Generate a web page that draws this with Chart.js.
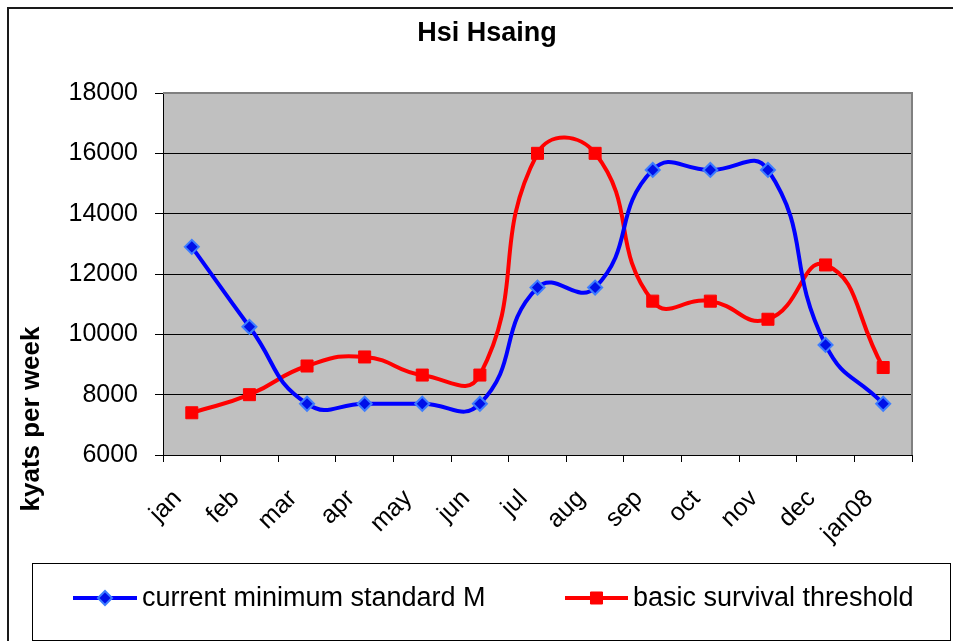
<!DOCTYPE html>
<html>
<head>
<meta charset="utf-8">
<script src="https://cdn.jsdelivr.net/npm/chart.js@4.4.1/dist/chart.umd.min.js"></script>
<style>
  html, body { margin: 0; padding: 0; background: #fff; }
  canvas { display: block; }
</style>
</head>
<body>
<canvas id="hsiHsaingChart" width="953" height="641"></canvas>
<script>
// Data
const months = ['jan', 'feb', 'mar', 'apr', 'may', 'jun', 'jul', 'aug', 'sep', 'oct', 'nov', 'dec', 'jan08'];
const currentMinimum = [12900, 10250, 7700, 7700, 7700, 7700, 11550, 11550, 15450, 15450, 15450, 9650, 7700];
const survivalThreshold = [7400, 8000, 8950, 9250, 8650, 8650, 16000, 16000, 11100, 11100, 10500, 12300, 8900];
const yMin = 6000;
const yMax = 18000;
const yStep = 2000;

const FONT = "'Liberation Sans', Arial, sans-serif";

// white background + the outer chart border (top and left edges only show)
const chartFrame = {
    id: 'chartFrame',
    beforeDraw(chart) {
        const ctx = chart.ctx;
        const area = chart.chartArea;
        ctx.save();
        ctx.fillStyle = '#ffffff';
        ctx.fillRect(0, 0, chart.width, chart.height);
        ctx.strokeStyle = '#1a1a1a';
        ctx.lineWidth = 2;
        ctx.beginPath();
        ctx.moveTo(8, chart.height + 2);
        ctx.lineTo(8, 8);
        ctx.lineTo(chart.width + 2, 8);
        ctx.stroke();
        // grey plot area
        ctx.fillStyle = '#c0c0c0';
        ctx.fillRect(area.left, area.top, area.right - area.left, area.bottom - area.top);
        ctx.restore();
    },
    beforeDatasetsDraw(chart) {
        const ctx = chart.ctx;
        const area = chart.chartArea;
        ctx.save();
        ctx.strokeStyle = '#808080';
        ctx.lineWidth = 2;
        ctx.beginPath();
        ctx.moveTo(area.left, area.top);
        ctx.lineTo(area.right, area.top);
        ctx.lineTo(area.right, area.bottom);
        ctx.stroke();
        ctx.restore();
    }
};

// y axis title sits low on the left, not centred on the axis
const yTitle = {
    id: 'yTitle',
    afterDraw(chart) {
        const ctx = chart.ctx;
        ctx.save();
        ctx.translate(32, 419);
        ctx.rotate(-Math.PI / 2);
        ctx.font = 'bold 26px ' + FONT;
        ctx.fillStyle = '#000';
        ctx.textAlign = 'center';
        ctx.textBaseline = 'middle';
        ctx.fillText('kyats per week', 0, 0);
        ctx.restore();
    }
};

// Excel style legend: boxed, line sample with marker
const lineLegend = {
    id: 'lineLegend',
    afterDraw(chart) {
        const ctx = chart.ctx;
        const slots = [{ x1: 73, x2: 137, tx: 142 }, { x1: 565, x2: 628, tx: 633 }];
        const cy = 598;
        ctx.save();
        ctx.strokeStyle = '#000';
        ctx.lineWidth = 1;
        ctx.strokeRect(32.5, 563.5, 918, 77);
        chart.data.datasets.forEach((ds, i) => {
            const s = slots[i];
            ctx.strokeStyle = ds.borderColor;
            ctx.lineWidth = ds.borderWidth;
            ctx.beginPath();
            ctx.moveTo(s.x1, cy);
            ctx.lineTo(s.x2, cy);
            ctx.stroke();
            ctx.fillStyle = ds.pointBackgroundColor;
            ctx.strokeStyle = ds.pointBorderColor;
            ctx.lineWidth = ds.pointBorderWidth;
            Chart.helpers.drawPoint(ctx, {
                pointStyle: ds.pointStyle,
                radius: ds.pointRadius,
                borderWidth: ds.pointBorderWidth,
                rotation: 0
            }, (s.x1 + s.x2) / 2, cy);
            ctx.fillStyle = '#000';
            ctx.font = '27px ' + FONT;
            ctx.textAlign = 'left';
            ctx.textBaseline = 'middle';
            ctx.fillText(ds.label, s.tx, cy + 1);
        });
        ctx.restore();
    }
};

const chart = new Chart(document.getElementById('hsiHsaingChart'), {
    type: 'line',
    data: {
        labels: months,
        datasets: [{
            label: 'current minimum standard M',
            data: currentMinimum,
            borderColor: '#0000ff',
            borderWidth: 4,
            tension: 0.5,
            pointStyle: 'rectRot',
            pointRadius: 7,
            pointBackgroundColor: '#0010e8',
            pointBorderColor: '#3d7dff',
            pointBorderWidth: 2
        }, {
            label: 'basic survival threshold',
            data: survivalThreshold,
            borderColor: '#ff0000',
            borderWidth: 4,
            tension: 0.5,
            pointStyle: 'rect',
            pointRadius: 8.5,
            pointBackgroundColor: '#ff0000',
            pointBorderColor: '#ff0000',
            pointBorderWidth: 1
        }]
    },
    options: {
        responsive: false,
        animation: false,
        layout: { padding: { left: 62, right: 41, top: 0, bottom: 0 } },
        plugins: {
            legend: { display: false },
            tooltip: { enabled: false },
            title: {
                display: true,
                text: 'Hsi Hsaing',
                color: '#000',
                font: { family: FONT, size: 27, weight: 'bold' },
                padding: { top: 17, bottom: 43.6 }
            }
        },
        scales: {
            x: {
                offset: true,
                grid: { offset: true, drawOnChartArea: false, drawTicks: true, tickLength: 7, color: '#000' },
                border: { color: '#000', width: 1 },
                ticks: {
                    autoSkip: false,
                    minRotation: 45,
                    maxRotation: 45,
                    padding: 22,
                    labelOffset: -14,
                    color: '#000',
                    font: { family: FONT, size: 25 }
                },
                afterFit(scale) { scale.height = 186; }
            },
            y: {
                min: yMin,
                max: yMax,
                grid: { color: '#000', tickLength: 8, lineWidth: 1 },
                border: { color: '#000', width: 1 },
                ticks: {
                    stepSize: yStep,
                    padding: 17,
                    color: '#000',
                    font: { family: FONT, size: 25 },
                    callback: v => String(v)
                },
                afterFit(scale) { scale.width = 101; }
            }
        }
    },
    plugins: [chartFrame, yTitle, lineLegend]
});
</script>
</body>
</html>
